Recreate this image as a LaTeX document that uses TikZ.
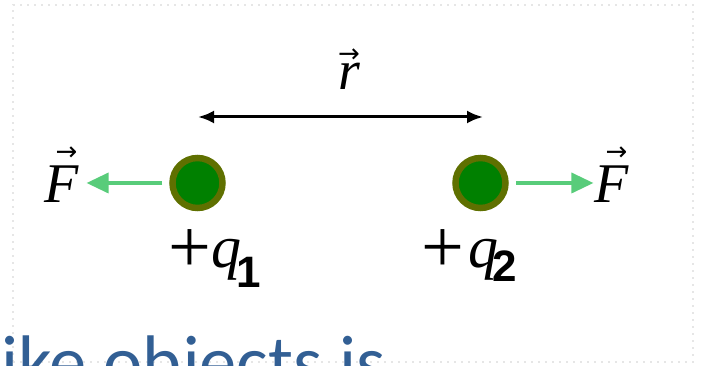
\documentclass[tikz,border=0pt]{standalone}
\usepackage{fontspec}
\setmainfont{Liberation Serif}
\newfontfamily\bodyfont{Carlito}
\newfontfamily\subfont{Liberation Sans}
\newfontfamily\arrowfont{DejaVu Sans}
\usetikzlibrary{arrows.meta}
\definecolor{ringolive}{RGB}{95,112,0}
\definecolor{chargegreen}{RGB}{0,128,0}
\definecolor{forcegreen}{RGB}{88,204,122}
\definecolor{slideblue}{RGB}{50,95,148}
\definecolor{framegray}{RGB}{230,230,230}
% letter, lift of the arrow, shift of the arrow
\newcommand{\vecit}[3]{\makebox[0pt][l]{\hspace{#3}\raisebox{#2}{\arrowfont\fontsize{26}{26}\selectfont →}}\textit{#1}}
\newcommand{\subbold}[1]{{\subfont\bfseries\fontsize{44}{46}\selectfont #1}}
\newcommand{\bigplus}{\raisebox{-5pt}{\fontsize{76}{76}\selectfont +}}

\begin{document}
\begin{tikzpicture}[x=1pt,y=1pt,
  charge/.style={circle,draw=ringolive,fill=chargegreen,line width=6.5pt,minimum size=50pt,inner sep=0pt},
  force/.style={draw=forcegreen,line width=3.5pt,-{Triangle[length=22pt,width=20pt]}},
  separation/.style={draw=black,line width=3pt,{Latex[length=16pt,width=13pt]}-{Latex[length=16pt,width=13pt]}},
  lbl/.style={inner sep=0pt,anchor=base,font=\fontsize{56}{60}\selectfont},
  qlbl/.style={inner sep=0pt,anchor=base west,font=\fontsize{60}{64}\selectfont}]
\useasboundingbox (0,0) rectangle (702,366);
\clip (0,0) rectangle (702,366);
% frame and slide text:
\path[draw=framegray,line width=2pt,dash pattern=on 2pt off 5pt] (13,4) rectangle (693,361);
\node[inner sep=0pt,anchor=base west,text=slideblue,font=\bodyfont\fontsize{74.5}{80}\selectfont] (txt) at (1,-22) {ike objects is};
% charges:
\node[charge] (q1) at (197.5,183) {};
\node[charge] (q2) at (480.5,183) {};
\node[qlbl] (lq1) at (168,98) {\bigplus\textit{q}\hspace{-5pt}\raisebox{-20pt}{\subbold{1}}};
\node[qlbl] (lq2) at (421,98) {\bigplus\hspace{4pt}\textit{q}\hspace{-6pt}\raisebox{-14pt}{\subbold{2}}};
% separation vector:
\coordinate (rl) at (198,249);
\coordinate (rr) at (483,249);
\draw[separation] (rl) -- (rr);
\node[lbl] (rlbl) at (349,276) {\vecit{r}{27pt}{0pt}};
% forces:
\node[lbl] (Fl) at (62,163) {\vecit{F}{42pt}{11pt}};
\node[lbl] (Fr) at (612,163) {\vecit{F}{42pt}{11pt}};
\path (Fl.east |- q1.west) coordinate (Fltip);
\path (Fr.west |- q2.east) coordinate (Frtip);
\draw[force] ([xshift=-7pt]q1.west) -- ([xshift=7pt]Fltip);
\draw[force] ([xshift=7pt]q2.east) -- ([xshift=-1pt]Frtip);
\end{tikzpicture}
\end{document}
